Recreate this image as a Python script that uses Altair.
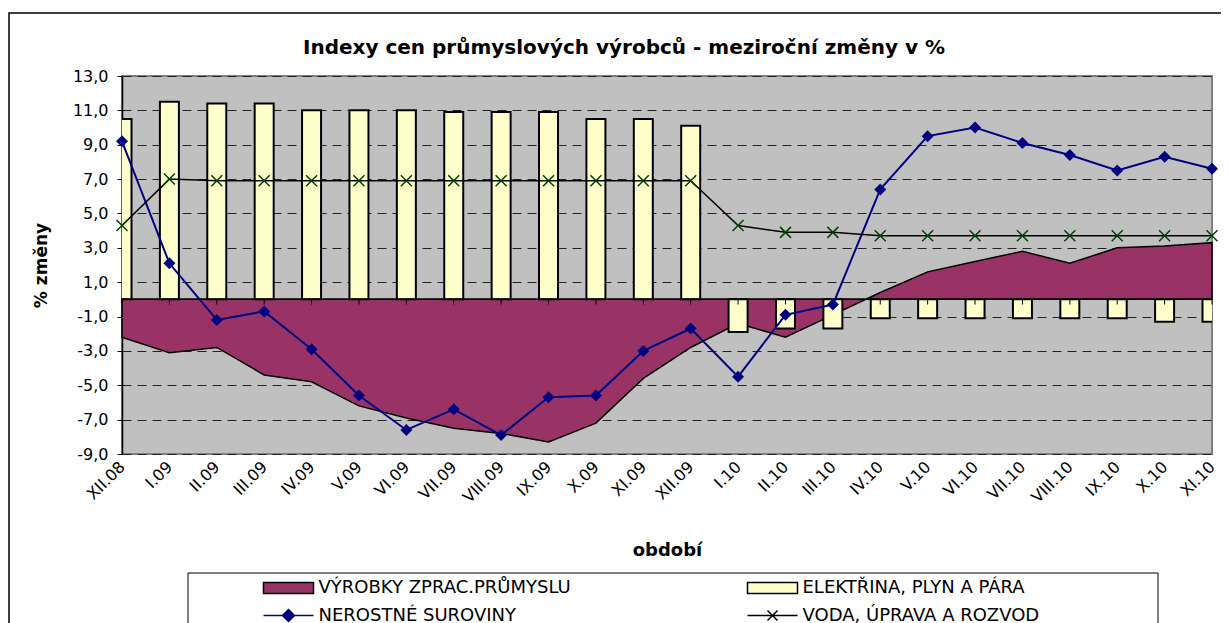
import altair as alt
import pandas as pd

categories = ["XII.08", "I.09", "II.09", "III.09", "IV.09", "V.09", "VI.09", "VII.09",
              "VIII.09", "IX.09", "X.09", "XI.09", "XII.09", "I.10", "II.10", "III.10",
              "IV.10", "V.10", "VI.10", "VII.10", "VIII.10", "IX.10", "X.10", "XI.10"]
vyrobky = [-2.2, -3.1, -2.8, -4.4, -4.8, -6.2, -6.9, -7.5, -7.8, -8.3, -7.2, -4.6,
           -2.8, -1.4, -2.2, -0.9, 0.4, 1.6, 2.2, 2.8, 2.1, 3.0, 3.1, 3.3]
elektrina = [10.5, 11.5, 11.4, 11.4, 11.0, 11.0, 11.0, 10.9, 10.9, 10.9, 10.5, 10.5,
             10.1, -1.9, -1.7, -1.7, -1.1, -1.1, -1.1, -1.1, -1.1, -1.1, -1.3, -1.3]
nerostne = [9.2, 2.1, -1.2, -0.7, -2.9, -5.6, -7.6, -6.4, -7.9, -5.7, -5.6, -3.0,
            -1.7, -4.5, -0.9, -0.3, 6.4, 9.5, 10.0, 9.1, 8.4, 7.5, 8.3, 7.6]
voda = [4.3, 7.0, 6.9, 6.9, 6.9, 6.9, 6.9, 6.9, 6.9, 6.9, 6.9, 6.9,
        6.9, 4.3, 3.9, 3.9, 3.7, 3.7, 3.7, 3.7, 3.7, 3.7, 3.7, 3.7]

series_names = ["VÝROBKY ZPRAC.PRŮMYSLU", "ELEKTŘINA, PLYN A PÁRA",
                "NEROSTNÉ  SUROVINY", "VODA, ÚPRAVA A ROZVOD"]
fill_colors = ["#993366", "#FFFFCC", "#000080", "#004000"]
stroke_colors = ["black", "black", "#000080", "black"]
marker_green = "#004000"
y_ticks = list(range(-9, 14, 2))

FONT = "DejaVu Sans"

df = pd.DataFrame({
    "obdobi": categories,
    "vyrobky": vyrobky,
    "elektrina": elektrina,
    "nerostne": nerostne,
    "voda": voda,
})
one = pd.DataFrame({"k": [0]})

# legend symbol shapes per entry
rect_path = "M-2.5,-0.55H2.5V0.55H-2.5Z"
diamond_path = "M-2.5,0H2.5M0,-0.6L0.6,0L0,0.6L-0.6,0Z"
cross_path = "M-2.5,0H2.5M-0.5,-0.5L0.5,0.5M-0.5,0.5L0.5,-0.5"
shapes = [rect_path, rect_path, diamond_path, cross_path]


def case_expr(values):
    expr = "'" + values[-1] + "'"
    for name, v in reversed(list(zip(series_names[:-1], values[:-1]))):
        expr = f"datum.value === '{name}' ? '{v}' : ({expr})"
    return expr


legend = alt.Legend(
    orient="none", legendX=155.5, legendY=501, columns=2, direction="horizontal",
    title=None, padding=0, rowPadding=7.5, columnPadding=173, labelFont=FONT,
    labelFontSize=18, labelColor="black", labelOffset=19, symbolSize=400,
    labelLimit=400,
    symbolType=alt.ExprRef(case_expr(shapes)),
    symbolStrokeWidth=1.5,
    symbolOpacity=1,
)
fill_scale = alt.Scale(domain=series_names, range=fill_colors)
stroke_scale = alt.Scale(domain=series_names, range=stroke_colors)

x_enc = alt.X(
    "obdobi:N", sort=categories,
    scale=alt.Scale(type="point", padding=0),
    axis=alt.Axis(labelAngle=-45, labelAlign="right", labelBaseline="middle",
                  labelPadding=10, ticks=False, domain=False, grid=False,
                  labelOverlap=False,
                  labelFont=FONT, labelFontSize=16, labelColor="black",
                  titleFont=FONT, titleFontSize=18, titleFontWeight="bold",
                  titleColor="black", titlePadding=36),
    title="období",
)
y_axis = alt.Axis(values=y_ticks, labelExpr="(datum.value < 0 ? '-' : '') + replace(format(abs(datum.value), '.1f'), '.', ',')",
                  grid=True, gridColor="#222222", gridDash=[9, 6], gridWidth=1,
                  labelOverlap=False,
                  domainColor="black", domainWidth=1.5, tickColor="black", tickSize=5,
                  labelPadding=9, labelFont=FONT, labelFontSize=16, labelColor="black",
                  titleFont=FONT, titleFontSize=17, titleFontWeight="bold",
                  titleColor="black", titlePadding=22)
y_scale = alt.Scale(domain=[-9, 13], nice=False, zero=False)


def y_enc(field):
    return alt.Y(f"{field}:Q", scale=y_scale, axis=y_axis, title="% změny")


y_zero = alt.Y(datum=0, scale=y_scale, axis=y_axis, title="% změny")


def fill_enc():
    return alt.Fill("series:N", scale=fill_scale, legend=legend)


def stroke_enc():
    return alt.Stroke("series:N", scale=stroke_scale, legend=legend)


frame = alt.Chart(one).mark_rect(fill="transparent", stroke="black", strokeWidth=1.5).encode(
    x=alt.value(-113), x2=alt.value(1200), y=alt.value(-63), y2=alt.value(600))
legend_box = alt.Chart(one).mark_rect(fill="transparent", stroke="black", strokeWidth=1).encode(
    x=alt.value(66), x2=alt.value(1036), y=alt.value(497), y2=alt.value(600))

area = alt.Chart(df).transform_calculate(series=f"'{series_names[0]}'").mark_area(
    opacity=1, strokeWidth=1.5).encode(
    x=x_enc, y=y_enc("vyrobky"), y2=alt.datum(0),
    fill=fill_enc(), stroke=stroke_enc())
bars = alt.Chart(df).transform_calculate(series=f"'{series_names[1]}'").mark_bar(
    size=19, strokeWidth=2, clip=True, opacity=1).encode(
    x=x_enc, y=y_enc("elektrina"), y2=alt.datum(0),
    fill=fill_enc(), stroke=stroke_enc())
zero_rule = alt.Chart(one).mark_rule(color="black", strokeWidth=1.5).encode(y=y_zero)
zero_ticks = alt.Chart(df).mark_rule(color="black", strokeWidth=1).encode(
    x=x_enc, y=y_zero, y2=alt.datum(-0.3))
ner_line = alt.Chart(df).transform_calculate(series=f"'{series_names[2]}'").mark_line(
    strokeWidth=2, opacity=1).encode(
    x=x_enc, y=y_enc("nerostne"), stroke=stroke_enc())
ner_pts = alt.Chart(df).mark_point(shape="diamond", size=144, filled=True, opacity=1,
                                   color=fill_colors[2]).encode(
    x=x_enc, y=y_enc("nerostne"))
voda_line = alt.Chart(df).transform_calculate(series=f"'{series_names[3]}'").mark_line(
    strokeWidth=1.5, opacity=1).encode(
    x=x_enc, y=y_enc("voda"), stroke=stroke_enc())
voda_pts = alt.Chart(df).mark_point(shape="M-1,-1L1,1M-1,1L1,-1", size=121, color=marker_green,
                                    strokeWidth=1.5, filled=False, opacity=1).encode(
    x=x_enc, y=y_enc("voda"))

chart = alt.layer(
    frame, legend_box, area, bars, zero_rule, zero_ticks, ner_line, ner_pts, voda_line, voda_pts
).properties(
    width=1090, height=378,
    autosize=alt.AutoSizeParams(type="none"),
    padding={"left": 114, "top": 68, "right": 9, "bottom": 169},
    background="white",
    title=alt.TitleParams(
        "Indexy cen průmyslových výrobců - meziroční změny v %",
        font=FONT, fontSize=20, fontWeight="bold", color="black",
        anchor="middle", dx=-43, offset=-46),
).configure_view(
    fill="#C0C0C0", stroke="#808080", strokeWidth=2
)

chart.save("out.html", embed_options={"renderer": "svg", "actions": False})
